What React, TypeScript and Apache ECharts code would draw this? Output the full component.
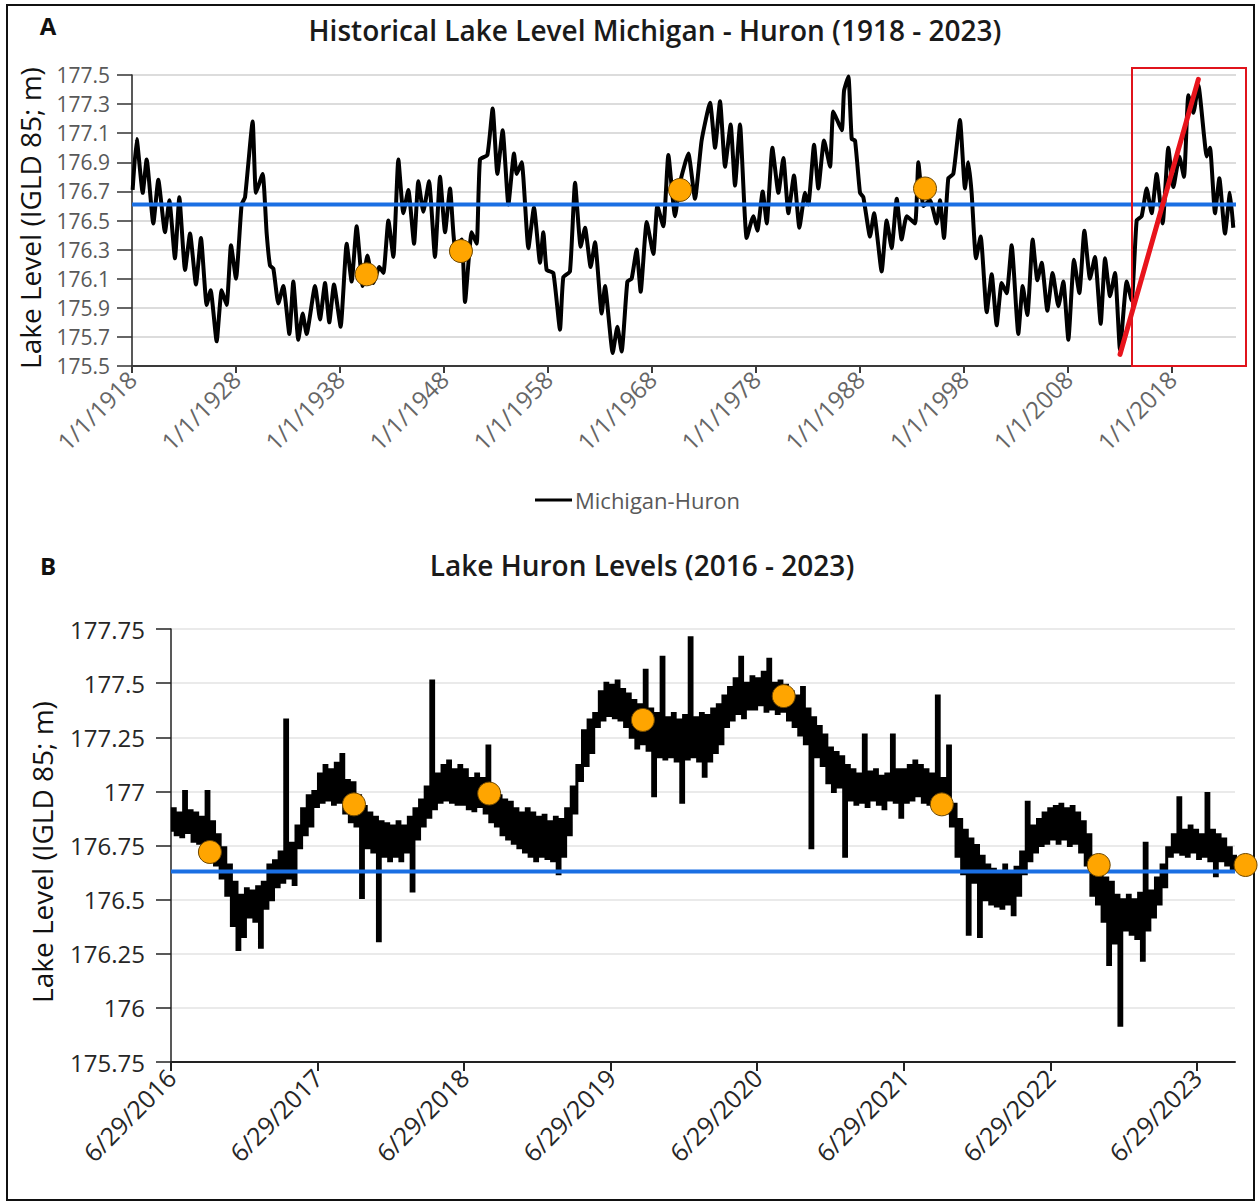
import React, { useEffect, useRef } from "react";
import * as echarts from "echarts";

const SANS = '"Open Sans", "DejaVu Sans", sans-serif';

// ---------- Panel A: Michigan–Huron monthly levels, turning points [year, metres] ----------
const levels1918to1957: [number, number][] = [
  [1918.06, 176.71], [1918.45, 177.06], [1919.03, 176.69], [1919.41, 176.92], [1920.05, 176.48],
  [1920.53, 176.78], [1921.17, 176.42], [1921.59, 176.64], [1922.13, 176.24], [1922.55, 176.66],
  [1923.1, 176.16], [1923.58, 176.41], [1924.15, 176.06], [1924.63, 176.38], [1925.18, 175.92],
  [1925.56, 176.02], [1926.14, 175.67], [1926.62, 176.02], [1927.1, 175.92], [1927.52, 176.33],
  [1928.0, 176.10], [1928.54, 176.61], [1928.87, 176.66], [1929.6, 177.18], [1929.92, 176.69],
  [1930.56, 176.82], [1930.95, 176.41], [1931.27, 176.19], [1931.59, 176.17], [1932.07, 175.93],
  [1932.55, 176.05], [1933.13, 175.72], [1933.51, 176.08], [1933.99, 175.68], [1934.41, 175.86],
  [1934.79, 175.72], [1935.6, 176.05], [1936.08, 175.82], [1936.56, 176.07], [1936.97, 175.80],
  [1937.42, 176.06], [1938.06, 175.77], [1938.64, 176.34], [1939.12, 176.08], [1939.6, 176.46],
  [1940.18, 176.05], [1940.63, 176.26], [1941.21, 176.07], [1941.78, 176.18], [1942.17, 176.14],
  [1942.65, 176.50], [1943.13, 176.25], [1943.61, 176.92], [1944.09, 176.55], [1944.57, 176.71],
  [1945.12, 176.34], [1945.53, 176.77], [1946.01, 176.56], [1946.56, 176.77], [1947.13, 176.25],
  [1947.62, 176.80], [1948.1, 176.42], [1948.58, 176.72], [1949.06, 176.32], [1949.7, 176.37],
  [1950.02, 175.94], [1950.66, 176.42], [1951.14, 176.34], [1951.46, 176.92], [1952.17, 176.95],
  [1952.68, 177.27], [1953.13, 176.82], [1953.64, 177.12], [1954.19, 176.61], [1954.73, 176.96],
  [1954.99, 176.82], [1955.47, 176.90], [1956.11, 176.31], [1956.65, 176.59], [1957.23, 176.21],
];

const levels1957to1995: [number, number][] = [
  [1957.55, 176.42], [1957.87, 176.16], [1958.51, 176.14], [1959.15, 175.75], [1959.47, 176.11],
  [1960.11, 176.15], [1960.6, 176.76], [1961.14, 176.32], [1961.56, 176.45], [1962.1, 176.18],
  [1962.52, 176.35], [1963.16, 175.86], [1963.48, 176.05], [1964.22, 175.59], [1964.67, 175.77],
  [1965.08, 175.60], [1965.63, 176.08], [1966.04, 176.10], [1966.52, 176.30], [1966.91, 176.01],
  [1967.49, 176.49], [1968.13, 176.27], [1968.51, 176.60], [1969.09, 176.46], [1969.57, 176.95],
  [1970.21, 176.53], [1970.69, 176.76], [1971.49, 176.96], [1972.13, 176.65], [1972.77, 177.05],
  [1973.58, 177.31], [1974.06, 177.00], [1974.54, 177.32], [1975.02, 176.87], [1975.56, 177.16],
  [1975.98, 176.74], [1976.46, 177.16], [1977.1, 176.38], [1977.74, 176.53], [1978.13, 176.43],
  [1978.64, 176.70], [1979.03, 176.48], [1979.57, 177.00], [1980.15, 176.69], [1980.63, 176.93],
  [1981.11, 176.55], [1981.65, 176.81], [1982.17, 176.45], [1982.71, 176.69], [1983.03, 176.61],
  [1983.58, 177.02], [1983.99, 176.72], [1984.54, 177.05], [1985.12, 176.87], [1985.43, 177.25],
  [1986.24, 177.12], [1986.46, 177.39], [1986.88, 177.49], [1987.2, 177.06], [1987.52, 177.05],
  [1988.0, 176.69], [1988.32, 176.66], [1988.96, 176.39], [1989.35, 176.55], [1990.08, 176.15],
  [1990.56, 176.50], [1991.04, 176.31], [1991.53, 176.65], [1992.0, 176.37], [1992.49, 176.53],
  [1993.29, 176.48], [1993.61, 176.90], [1994.1, 176.60], [1994.73, 176.64], [1995.37, 176.48],
];

const levels1995to2023: [number, number][] = [
  [1995.69, 176.64], [1996.07, 176.38], [1996.49, 176.79], [1996.97, 176.82], [1997.61, 177.19],
  [1998.09, 176.72], [1998.41, 176.90], [1998.73, 176.69], [1999.15, 176.24], [1999.6, 176.39],
  [2000.18, 175.87], [2000.66, 176.13], [2001.14, 175.78], [2001.62, 176.07], [2002.1, 176.00],
  [2002.58, 176.33], [2003.22, 175.72], [2003.64, 176.05], [2004.09, 175.85], [2004.6, 176.37],
  [2005.05, 176.09], [2005.47, 176.21], [2006.01, 175.88], [2006.52, 176.14], [2007.07, 175.91],
  [2007.55, 176.08], [2008.03, 175.68], [2008.57, 176.23], [2009.09, 176.00], [2009.57, 176.43],
  [2010.11, 176.10], [2010.59, 176.25], [2011.14, 175.79], [2011.56, 176.24], [2012.04, 175.98],
  [2012.52, 176.14], [2013.0, 175.61], [2013.64, 176.08], [2014.12, 175.95], [2014.6, 176.50],
  [2015.08, 176.53], [2015.56, 176.72], [2016.04, 176.55], [2016.52, 176.82], [2017.1, 176.48],
  [2017.64, 177.00], [2018.13, 176.73], [2018.7, 176.94], [2019.15, 176.80], [2019.57, 177.36],
  [2020.05, 177.24], [2020.53, 177.43], [2021.08, 177.08], [2021.33, 176.94], [2021.65, 177.00],
  [2022.13, 176.55], [2022.55, 176.79], [2023.09, 176.41], [2023.57, 176.69], [2023.89, 176.45],
];

const meanLevelA = 176.61;
const markedYearsA: [number, number][] = [
  [1940.56, 176.13], [1949.63, 176.29], [1970.69, 176.71], [1994.25, 176.72],
];
const riseFrom: [number, number] = [2013.0, 175.58];
const riseTo: [number, number] = [2020.53, 177.47];
const decadeTicksA = [1918, 1928, 1938, 1948, 1958, 1968, 1978, 1988, 1998, 2008, 2018];

// ---------- Panel B: Lake Huron weekly readings from 6/29/2016 (alternating low / high) ----------
const huron2016 = [
  176.82, 176.92, 176.80, 176.90, 176.79, 177.00, 176.81, 176.91, 176.77, 176.90,
  176.76, 176.88, 176.74, 177.00, 176.70, 176.86, 176.66, 176.80, 176.60, 176.74,
  176.52, 176.66, 176.38, 176.58, 176.27, 176.52, 176.33, 176.55, 176.42, 176.54,
  176.40, 176.56, 176.28, 176.58, 176.46, 176.66, 176.50, 176.68, 176.56, 176.72,
  176.58, 177.33, 176.60, 176.76, 176.57, 176.84, 176.74, 176.92, 176.80, 176.98,
  176.84, 177.00,
];
const huron2017 = [
  176.93, 177.08, 176.95, 177.12, 176.96, 177.10, 176.94, 177.13, 176.95, 177.17,
  176.90, 177.05, 176.86, 177.04, 176.84, 176.98, 176.51, 176.93, 176.74, 176.90,
  176.72, 176.88, 176.31, 176.86, 176.70, 176.85, 176.68, 176.84, 176.70, 176.86,
  176.68, 176.84, 176.72, 176.88, 176.54, 176.92, 176.78, 176.96, 176.84, 177.02,
  176.88, 177.51, 176.92, 177.08, 176.95, 177.12, 176.96, 177.14, 176.95, 177.10,
  176.94, 177.12,
];
const huron2018 = [
  176.94, 177.10, 176.92, 177.06, 176.91, 177.08, 176.93, 177.06, 176.90, 177.21,
  176.86, 177.02, 176.84, 176.98, 176.80, 176.96, 176.78, 176.95, 176.76, 176.92,
  176.74, 176.90, 176.72, 176.92, 176.70, 176.90, 176.68, 176.88, 176.70, 176.89,
  176.69, 176.86, 176.68, 176.88, 176.62, 176.87, 176.70, 176.92, 176.80, 177.02,
  176.90, 177.12, 177.05, 177.28, 177.12, 177.33, 177.18, 177.36, 177.30, 177.46,
  177.33, 177.50,
];
const huron2019 = [
  177.35, 177.49, 177.34, 177.51, 177.33, 177.47, 177.30, 177.45, 177.25, 177.42,
  177.20, 177.40, 177.22, 177.56, 177.19, 177.38, 176.98, 177.36, 177.16, 177.62,
  177.15, 177.34, 177.16, 177.36, 177.14, 177.33, 176.95, 177.35, 177.15, 177.71,
  177.16, 177.34, 177.14, 177.36, 177.07, 177.35, 177.14, 177.38, 177.18, 177.40,
  177.22, 177.44, 177.30, 177.48, 177.33, 177.52, 177.36, 177.62, 177.34, 177.50,
  177.38, 177.53,
];
const huron2020 = [
  177.38, 177.52, 177.40, 177.55, 177.37, 177.61, 177.38, 177.50, 177.36, 177.51,
  177.37, 177.49, 177.33, 177.46, 177.30, 177.44, 177.26, 177.48, 177.22, 177.38,
  176.74, 177.34, 177.16, 177.30, 177.12, 177.26, 177.04, 177.20, 177.00, 177.18,
  177.02, 177.16, 176.70, 177.12, 176.96, 177.10, 176.94, 177.08, 176.95, 177.26,
  176.93, 177.09, 176.96, 177.10, 176.94, 177.07, 176.92, 177.08, 176.96, 177.26,
  176.95, 177.10,
];
const huron2021 = [
  176.88, 177.10, 176.95, 177.12, 176.96, 177.14, 176.98, 177.12, 176.95, 177.10,
  176.94, 177.08, 176.93, 177.44, 176.92, 177.06, 176.90, 177.21, 176.84, 176.94,
  176.70, 176.87, 176.62, 176.82, 176.34, 176.78, 176.58, 176.75, 176.33, 176.70,
  176.50, 176.66, 176.48, 176.64, 176.47, 176.62, 176.46, 176.66, 176.48, 176.62,
  176.43, 176.65, 176.52, 176.72, 176.62, 176.95, 176.68, 176.84, 176.72, 176.87,
  176.75, 176.90,
];
const huron2022 = [
  176.76, 176.92, 176.78, 176.93, 176.76, 176.94, 176.78, 176.92, 176.75, 176.93,
  176.76, 176.90, 176.72, 176.86, 176.66, 176.80, 176.52, 176.70, 176.48, 176.66,
  176.40, 176.60, 176.20, 176.58, 176.30, 176.52, 175.92, 176.50, 176.36, 176.52,
  176.34, 176.50, 176.32, 176.53, 176.22, 176.76, 176.36, 176.54, 176.42, 176.60,
  176.48, 176.66, 176.56, 176.74, 176.70, 176.80, 176.72, 176.97, 176.71, 176.82,
  176.70, 176.84,
];
const huron2023 = [
  176.72, 176.82, 176.69, 176.80, 176.70, 176.99, 176.68, 176.82, 176.61, 176.80,
  176.68, 176.78, 176.66, 176.74, 176.64, 176.70, 176.65,
];

const meanLevelB = 176.63;
const markedDatesB: [string, number][] = [
  ["2016-10-04", 176.72], ["2017-09-28", 176.94], ["2018-08-31", 176.99], ["2019-09-18", 177.33],
  ["2020-09-03", 177.44], ["2021-10-02", 176.94], ["2022-10-28", 176.66], ["2023-10-29", 176.66],
];
const yearTicksB = [0, 1, 2, 3, 4, 5, 6, 7];

const START_B = Date.UTC(2016, 5, 29);
const YEAR_MS = 365.25 * 86400000;
const WEEK_YEARS = 7 / 365.25;

const yearsSinceStart = (iso: string) => (Date.parse(iso + "T00:00:00Z") - START_B) / YEAR_MS;

export default function App() {
  const ref = useRef<HTMLDivElement>(null);

  useEffect(() => {
    document.body.style.margin = "0";
    if (!ref.current) return;
    const chart = echarts.init(ref.current, undefined, { renderer: "svg" });

    const seriesA = [...levels1918to1957, ...levels1957to1995, ...levels1995to2023];
    const weekly = [
      ...huron2016, ...huron2017, ...huron2018, ...huron2019,
      ...huron2020, ...huron2021, ...huron2022, ...huron2023,
    ];
    const seriesB = weekly.map((v, i) => [i * WEEK_YEARS, v]);
    const dotsB = markedDatesB.map(([d, v]) => [yearsSinceStart(d), v]);

    const xMaxA = 2024.15;
    const xMaxB = 7.26;

    const dotStyle = { color: "#ffa500", borderColor: "#6e4700", borderWidth: 1, opacity: 1 };

    chart.setOption({
      animation: false,
      backgroundColor: "#ffffff",
      grid: [
        { left: 132, top: 75, width: 1104, height: 291 },
        { left: 171, top: 629, width: 1064, height: 433 },
      ],
      legend: {
        data: [{ name: "Michigan-Huron", icon: "rect" }],
        left: 530,
        top: 484,
        itemWidth: 37,
        itemHeight: 3,
        textStyle: { color: "#595959", fontSize: 22, fontFamily: SANS, padding: [0, 0, 0, -2] },
      },
      xAxis: [
        {
          gridIndex: 0,
          type: "value",
          min: 1918,
          max: xMaxA,
          interval: 10,
          axisLine: { lineStyle: { color: "#3a3a3a", width: 2 } },
          axisTick: { length: 7, customValues: decadeTicksA, lineStyle: { color: "#3a3a3a", width: 2 } },
          axisLabel: {
            color: "#666666",
            fontSize: 24,
            fontFamily: SANS,
            rotate: 45,
            margin: 9,
            customValues: decadeTicksA,
            formatter: (v: number) =>
              Math.abs((v - 1918) % 10) < 1e-6 ? `1/1/${Math.round(v)}` : "",
          },
          splitLine: { show: false },
        },
        {
          gridIndex: 1,
          type: "value",
          min: 0,
          max: xMaxB,
          interval: 1,
          axisLine: { lineStyle: { color: "#222", width: 2 } },
          axisTick: { length: 9, customValues: yearTicksB, lineStyle: { color: "#222", width: 2 } },
          axisLabel: {
            color: "#262626",
            fontSize: 25,
            fontFamily: SANS,
            rotate: 45,
            margin: 11,
            customValues: yearTicksB,
            formatter: (v: number) =>
              Math.abs(v - Math.round(v)) < 1e-6 ? `6/29/${2016 + Math.round(v)}` : "",
          },
          splitLine: { show: false },
        },
      ],
      yAxis: [
        {
          gridIndex: 0,
          type: "value",
          min: 175.5,
          max: 177.5,
          interval: 0.2,
          axisLine: { show: true, lineStyle: { color: "#222", width: 1.5 } },
          axisTick: { show: true, length: 15, lineStyle: { color: "#333", width: 1.5 } },
          axisLabel: {
            color: "#595959",
            fontSize: 21,
            fontFamily: SANS,
            margin: 22,
            formatter: (v: number) => v.toFixed(1),
          },
          splitLine: { lineStyle: { color: "#dcdcdc", width: 2 } },
        },
        {
          gridIndex: 1,
          type: "value",
          min: 175.75,
          max: 177.75,
          interval: 0.25,
          axisLine: { show: true, lineStyle: { color: "#222", width: 1.5 } },
          axisTick: { show: true, length: 15, lineStyle: { color: "#222", width: 1.5 } },
          axisLabel: {
            color: "#262626",
            fontSize: 24,
            fontFamily: SANS,
            margin: 26,
            formatter: (v: number) => String(+v.toFixed(2)),
          },
          splitLine: { lineStyle: { color: "#e3e3e3", width: 1.5 } },
        },
      ],
      series: [
        {
          name: "Michigan-Huron",
          type: "line",
          xAxisIndex: 0,
          yAxisIndex: 0,
          data: seriesA,
          symbol: "none",
          smooth: 0.15,
          lineStyle: { color: "#000", width: 4, join: "round" },
          itemStyle: { color: "#000" },
          z: 3,
        },
        {
          name: "meanA",
          type: "line",
          xAxisIndex: 0,
          yAxisIndex: 0,
          data: [[1918, meanLevelA], [xMaxA, meanLevelA]],
          symbol: "none",
          lineStyle: { color: "#1a6fe3", width: 4 },
          z: 4,
        },
        {
          name: "markedA",
          type: "scatter",
          xAxisIndex: 0,
          yAxisIndex: 0,
          data: markedYearsA,
          symbolSize: 23,
          itemStyle: dotStyle,
          z: 5,
        },
        {
          name: "riseA",
          type: "line",
          xAxisIndex: 0,
          yAxisIndex: 0,
          data: [riseFrom, riseTo],
          symbol: "none",
          lineStyle: { color: "#e8141c", width: 5, cap: "round" },
          z: 6,
        },
        {
          name: "Lake Huron",
          type: "line",
          xAxisIndex: 1,
          yAxisIndex: 1,
          data: seriesB,
          symbol: "none",
          step: "middle",
          lineStyle: { color: "#000", width: 3, join: "miter" },
          z: 3,
        },
        {
          name: "meanB",
          type: "line",
          xAxisIndex: 1,
          yAxisIndex: 1,
          data: [[0, meanLevelB], [xMaxB, meanLevelB]],
          symbol: "none",
          lineStyle: { color: "#1a6fe3", width: 4 },
          z: 4,
        },
        {
          name: "markedB",
          type: "scatter",
          xAxisIndex: 1,
          yAxisIndex: 1,
          data: dotsB,
          clip: false,
          symbolSize: 23,
          itemStyle: dotStyle,
          z: 5,
        },
      ],
      graphic: [
        {
          type: "rect",
          shape: { x: 7, y: 5, width: 1247, height: 1195 },
          style: { fill: "none", stroke: "#111", lineWidth: 2 },
          silent: true,
        },
        {
          type: "rect",
          shape: { x: 1132, y: 68, width: 114, height: 298 },
          style: { fill: "none", stroke: "#e0141c", lineWidth: 2 },
          z: 10,
        },
        {
          type: "text",
          x: 48,
          y: 25,
          style: { text: "A", fill: "#111", font: `bold 24px ${SANS}`, textAlign: "center", textVerticalAlign: "middle" },
        },
        {
          type: "text",
          x: 48,
          y: 565,
          style: { text: "B", fill: "#111", font: `bold 24px ${SANS}`, textAlign: "center", textVerticalAlign: "middle" },
        },
        {
          type: "text",
          x: 655,
          y: 30,
          style: {
            text: "Historical Lake Level Michigan - Huron (1918 - 2023)",
            fill: "#1a1a1a",
            font: `600 28px ${SANS}`,
            textAlign: "center",
            textVerticalAlign: "middle",
          },
        },
        {
          type: "text",
          x: 642,
          y: 565,
          style: {
            text: "Lake Huron Levels (2016 - 2023)",
            fill: "#1a1a1a",
            font: `600 28px ${SANS}`,
            textAlign: "center",
            textVerticalAlign: "middle",
          },
        },
        {
          type: "text",
          x: 30,
          y: 218,
          rotation: Math.PI / 2,
          style: {
            text: "Lake Level (IGLD 85; m)",
            fill: "#111",
            font: `28px ${SANS}`,
            textAlign: "center",
            textVerticalAlign: "middle",
          },
        },
        {
          type: "text",
          x: 42,
          y: 852,
          rotation: Math.PI / 2,
          style: {
            text: "Lake Level (IGLD 85; m)",
            fill: "#111",
            font: `28px ${SANS}`,
            textAlign: "center",
            textVerticalAlign: "middle",
          },
        },
      ],
    });

    return () => chart.dispose();
  }, []);

  return <div ref={ref} style={{ width: 1258, height: 1202 }} />;
}
